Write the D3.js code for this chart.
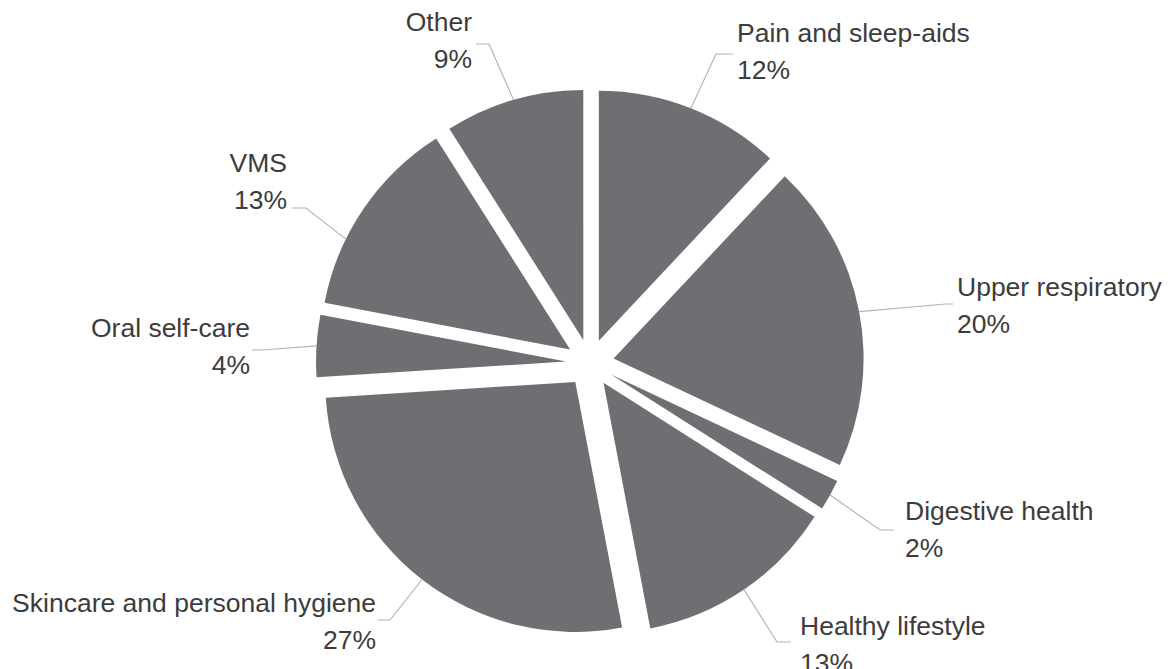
<!DOCTYPE html>
<html>
<head>
<meta charset="utf-8">
<script src="https://cdn.jsdelivr.net/npm/d3@7"></script>
<style>
  html, body { margin: 0; padding: 0; background: #ffffff; }
  svg { display: block; }
  text { font-family: "Liberation Sans", Arial, Helvetica, sans-serif; }
</style>
</head>
<body>
<svg id="chart" width="1171" height="669"></svg>
<script>
// Category shares (percent), clockwise from 12 o'clock
const categories = [
  "Pain and sleep-aids",
  "Upper respiratory",
  "Digestive health",
  "Healthy lifestyle",
  "Skincare and personal hygiene",
  "Oral self-care",
  "VMS",
  "Other"
];
const shares = [12, 20, 2, 13, 27, 4, 13, 9];

// Label placement: text anchor point, leader elbow and leader end, plus a small
// angular nudge (degrees) for where the leader meets the rim.
const labelLayout = [
  { anchor: "start", x: 737, y: 42,  elbow: [716, 54],  end: [733, 54],  nudge: 0 },
  { anchor: "start", x: 957, y: 296, elbow: [946, 304], end: [953, 304], nudge: 0 },
  { anchor: "start", x: 905, y: 520, elbow: [880, 530], end: [894, 530], nudge: 0 },
  { anchor: "start", x: 800, y: 635, elbow: [777, 642], end: [791, 642], nudge: 0 },
  { anchor: "end",   x: 376, y: 612, elbow: [390, 620], end: [378, 620], nudge: 0 },
  { anchor: "end",   x: 250, y: 337, elbow: [262, 350], end: [252, 350], nudge: 0 },
  { anchor: "end",   x: 287, y: 172, elbow: [306, 208], end: [292, 208], nudge: -8 },
  { anchor: "end",   x: 472, y: 31,  elbow: [489, 44],  end: [476, 44],  nudge: 0 }
];

const data = categories.map((name, i) => ({ name, value: shares[i], layout: labelLayout[i] }));

const cx = 590, cy = 363;
const radius = 250;
const explode = 24;
const lineGap = 37;

const sliceFill = "#6e6f73";
const textFill = "#3c3c3c";
const leaderStroke = "#b4b4b4";

const svg = d3.select("#chart");
const g = svg.append("g").attr("transform", `translate(${cx},${cy})`);

const pie = d3.pie().sort(null).value(d => d.value).startAngle(0).endAngle(2 * Math.PI);
const arc = d3.arc().innerRadius(0).outerRadius(radius);
const arcs = pie(data);

// Offset of each exploded slice along its bisector
function offset(d) {
  const mid = (d.startAngle + d.endAngle) / 2;
  return [explode * Math.sin(mid), -explode * Math.cos(mid)];
}

g.selectAll("path.slice")
  .data(arcs)
  .join("path")
  .attr("class", "slice")
  .attr("d", arc)
  .attr("fill", sliceFill)
  .attr("transform", d => {
    const [ox, oy] = offset(d);
    return `translate(${ox},${oy})`;
  });

// Leader lines from the slice rim to the label
const leader = d3.line();
svg.selectAll("path.leader")
  .data(arcs)
  .join("path")
  .attr("class", "leader")
  .attr("fill", "none")
  .attr("stroke", leaderStroke)
  .attr("stroke-width", 1.2)
  .attr("d", d => {
    const L = d.data.layout;
    const [ox, oy] = offset(d);
    const a = (d.startAngle + d.endAngle) / 2 + L.nudge * Math.PI / 180;
    const rim = [cx + ox + radius * Math.sin(a), cy + oy - radius * Math.cos(a)];
    return leader([rim, L.elbow, L.end]);
  });

// Two-line labels: category name and share
const labels = svg.selectAll("text.label")
  .data(arcs)
  .join("text")
  .attr("class", "label")
  .attr("font-size", 26.5)
  .attr("fill", textFill)
  .attr("text-anchor", d => d.data.layout.anchor)
  .attr("x", d => d.data.layout.x)
  .attr("y", d => d.data.layout.y);

labels.append("tspan")
  .attr("x", d => d.data.layout.x)
  .text(d => d.data.name);

labels.append("tspan")
  .attr("x", d => d.data.layout.x)
  .attr("dy", lineGap)
  .text(d => d.data.value + "%");
</script>
</body>
</html>
